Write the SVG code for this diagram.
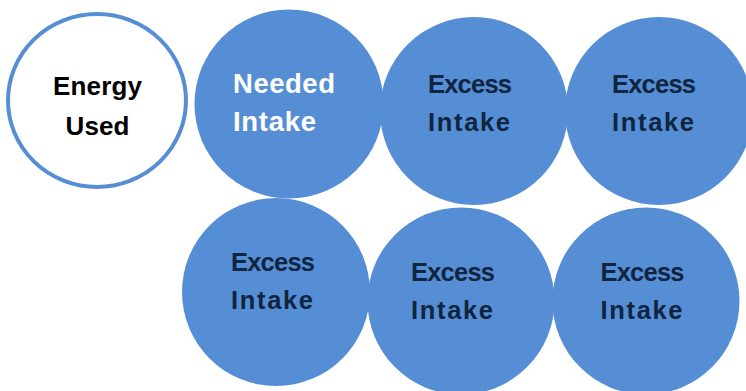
<svg xmlns="http://www.w3.org/2000/svg" width="746" height="391" viewBox="0 0 746 391">
<style>
.b{fill:#558ED5;}
.t{font-family:"Liberation Sans",Arial,sans-serif;font-weight:bold;}
.c{text-anchor:middle;}
.d{fill:#10253F;font-size:25.5px;}
</style>
<rect width="746" height="391" fill="#FFFFFF"/>
<g id="energy-used">
<ellipse cx="97" cy="100.5" rx="89" ry="86.5" fill="#FFFFFF" stroke="#558ED5" stroke-width="4"/>
<text class="t c" x="97.5" y="95" font-size="26" fill="#000000" textLength="89">Energy</text>
<text class="t c" x="97.5" y="135" font-size="26" fill="#000000" textLength="64">Used</text>
</g>
<g id="needed-intake">
<circle class="b" cx="289" cy="104" r="94.5"/>
<text class="t" x="233" y="92.7" font-size="27.5" fill="#FFFFFF" textLength="102">Needed</text>
<text class="t" x="233" y="131" font-size="27.5" fill="#FFFFFF" textLength="83">Intake</text>
</g>
<g id="excess-1">
<circle class="b" cx="474" cy="111" r="94"/>
<text class="t d" x="428" y="92.7" textLength="84">Excess</text>
<text class="t d" x="428" y="131" textLength="82">Intake</text>
</g>
<g id="excess-2">
<circle class="b" cx="659" cy="111" r="94"/>
<text class="t d" x="612" y="92.7" textLength="84">Excess</text>
<text class="t d" x="612" y="131" textLength="82">Intake</text>
</g>
<g id="excess-3">
<circle class="b" cx="276" cy="292" r="94"/>
<text class="t d" x="231" y="271" textLength="84">Excess</text>
<text class="t d" x="231" y="309" textLength="82">Intake</text>
</g>
<g id="excess-4">
<circle class="b" cx="461" cy="301" r="93.5"/>
<text class="t d" x="411" y="281" textLength="84">Excess</text>
<text class="t d" x="411" y="319" textLength="82">Intake</text>
</g>
<g id="excess-5">
<circle class="b" cx="646" cy="301" r="93.5"/>
<text class="t d" x="600.5" y="281" textLength="84">Excess</text>
<text class="t d" x="600.5" y="319" textLength="82">Intake</text>
</g>
<g id="connectors"></g>
</svg>
